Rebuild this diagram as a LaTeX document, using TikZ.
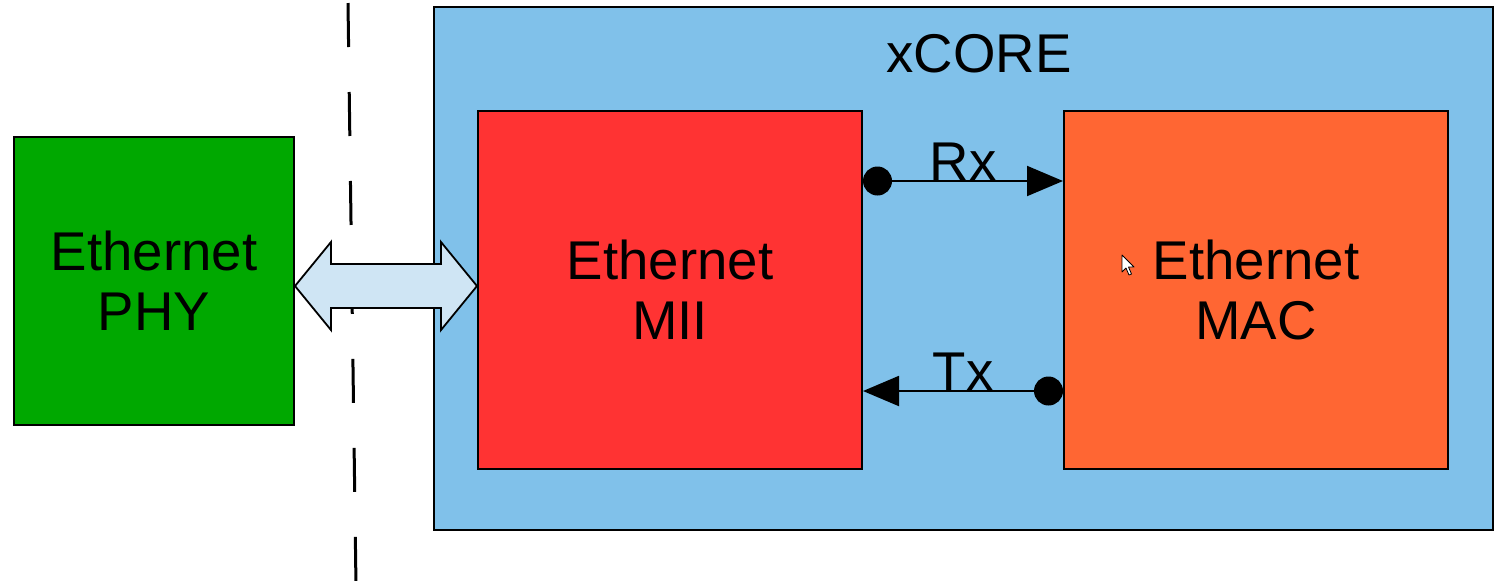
\documentclass[tikz,border=0pt]{standalone}
\usepackage{fontspec}
\setmainfont{Liberation Sans}
\usetikzlibrary{arrows.meta,calc}
\definecolor{corebg}{HTML}{80C1EA}
\definecolor{miired}{HTML}{FF3333}
\definecolor{macorange}{HTML}{FF6633}
\definecolor{phygreen}{HTML}{00A800}
\definecolor{linkblue}{HTML}{CFE5F4}
\begin{document}
\begin{tikzpicture}[x=0.5pt,y=-0.5pt]
            \tikzstyle{every node}+=[inner sep=0pt, align=center, font=\fontsize{27.3}{30}\selectfont]
            \tikzstyle{block}=[draw=black, line width=1pt]
            \tikzstyle{wire}=[black, line width=1pt, {Circle[length=14.5pt]}-{Triangle[length=18pt,width=15pt]}]
            \useasboundingbox (0,0) rectangle (1501,586);
            \node [block, fill=corebg, minimum width=529.5pt, minimum height=261.5pt] (core) at (963.5,268.5) {};
            \node [anchor=base] (corelabel) at (979,72) {xCORE};
            \node [block, fill=miired, minimum width=192pt, minimum height=179pt] (mii) at (670,290) {Ethernet\\MII};
            \node [block, fill=macorange, minimum width=192pt, minimum height=179pt] (mac) at (1256,290) {Ethernet\\MAC};
            \node [block, fill=phygreen, minimum width=140pt, minimum height=144pt] (phy) at (154,281) {Ethernet\\PHY};
            \coordinate (cuttop) at (348,3);
            \coordinate (cutbot) at (356,586);
            \draw [black, line width=1.5pt, dash pattern=on 22pt off 22.5pt] (cuttop) -- (cutbot);
            \coordinate (linkl) at (phy.east |- 0,286);
            \coordinate (linkr) at (mii.west |- 0,286);
            \draw [black, line width=0.9pt, fill=linkblue, line join=miter] (linkl) -- ++(36,-44) -- ++(0,22) -| ($(linkr)+(-36,-44)$) -- (linkr) -- ++(-36,44) -- ++(0,-22) -| ($(linkl)+(36,44)$) -- cycle;
            \draw [wire] ([yshift=54.5pt]mii.east) -- node [above] (rx) {Rx} ([yshift=54.5pt]mac.west);
            \draw [wire] ([yshift=-50.5pt]mac.west) -- node [above] (tx) {Tx} ([yshift=-50.5pt]mii.east);
            \coordinate (cursor) at (1122,255);
            \draw [black, line width=0.4pt, fill=white, line join=round] (cursor) -- ++(0,17) -- ++(4,-4) -- ++(3,7) -- ++(2.5,-1) -- ++(-3,-7) -- ++(5.5,0) -- cycle;
        \end{tikzpicture}
\end{document}
